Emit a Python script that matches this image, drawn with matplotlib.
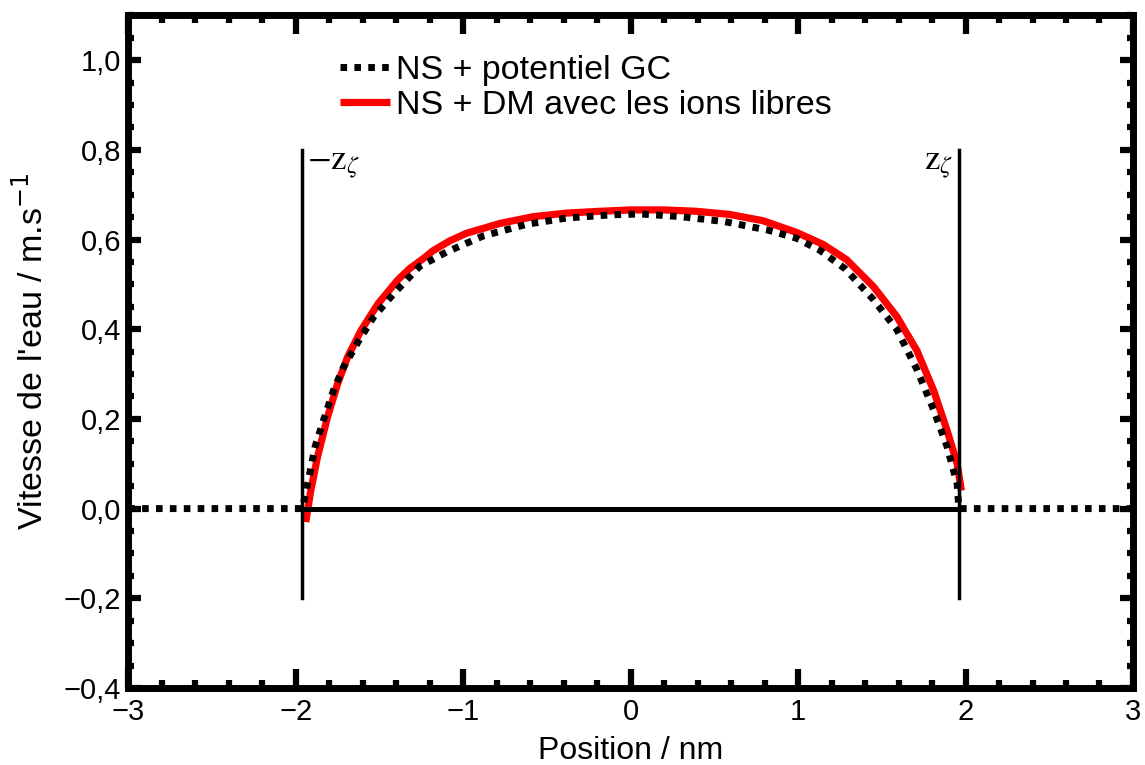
import numpy as np
import matplotlib
matplotlib.use("Agg")
import matplotlib.pyplot as plt
from matplotlib.ticker import MultipleLocator, FuncFormatter

plt.rcParams['font.family'] = ['Liberation Sans', 'DejaVu Sans']

# NS + potentiel GC (black dotted), zero outside the channel
x_gc = [-3.0, -1.96, -1.925, -1.885, -1.835, -1.775, -1.715, -1.635, -1.535, -1.415,
        -1.26, -1.10, -0.88, -0.62, -0.38, -0.12, 0.06, 0.30, 0.56, 0.82,
        0.99, 1.13, 1.28, 1.45, 1.59, 1.71, 1.81, 1.89, 1.95, 1.96, 3.0]
v_gc = [0.0, 0.0, 0.062, 0.137, 0.196, 0.263, 0.315, 0.367, 0.427, 0.479,
        0.54, 0.572, 0.608, 0.634, 0.648, 0.655, 0.657, 0.651, 0.640, 0.621,
        0.603, 0.576, 0.535, 0.466, 0.399, 0.31, 0.22, 0.138, 0.055, 0.0, 0.0]

# NS + DM avec les ions libres (red)
x_md = [-1.94, -1.91, -1.87, -1.81, -1.75, -1.69, -1.61, -1.51, -1.39, -1.32,
        -1.24, -1.18, -1.08, -0.98, -0.86, -0.78, -0.58, -0.38, -0.18, 0.0,
        0.2, 0.39, 0.59, 0.79, 0.99, 1.15, 1.29, 1.45, 1.59, 1.71,
        1.81, 1.89, 1.95, 1.975]
v_md = [-0.03, 0.04, 0.115, 0.204, 0.278, 0.338, 0.397, 0.456, 0.51, 0.535,
        0.557, 0.575, 0.597, 0.614, 0.627, 0.636, 0.651, 0.659, 0.663, 0.666,
        0.666, 0.663, 0.656, 0.642, 0.616, 0.589, 0.555, 0.495, 0.428, 0.352,
        0.263, 0.174, 0.10, 0.04]

z_zeta = 1.96

fig = plt.figure(figsize=(11.45, 7.65), dpi=100)
ax = fig.add_axes([0.112, 0.1007, 0.8775, 0.8793])

ax.plot(x_gc, v_gc, color='black', lw=5, linestyle=(0, (0.95, 1.05)),
        dash_capstyle='butt', label='NS + potentiel GC', zorder=3)
ax.plot(x_md, v_md, color='red', lw=5.2, solid_capstyle='butt', solid_joinstyle='round',
        label='NS + DM avec les ions libres', zorder=2)

# channel walls and zero line
ax.plot([-z_zeta, z_zeta], [0, 0], color='black', lw=3.6, zorder=4)
ax.plot([-z_zeta, -z_zeta], [-0.2, 0.8], color='black', lw=2.5, zorder=4)
ax.plot([z_zeta, z_zeta], [-0.2, 0.8], color='black', lw=2.5, zorder=4)
ax.text(-z_zeta + 0.03, 0.805, r'$-\mathrm{z}_\zeta$', fontsize=25, math_fontfamily='stix',
        ha='left', va='top')
ax.text(z_zeta - 0.03, 0.805, r'$\mathrm{z}_\zeta$', fontsize=25, math_fontfamily='stix',
        ha='right', va='top')

ax.set_xlim(-3, 3)
ax.set_ylim(-0.4, 1.1)

ax.xaxis.set_major_locator(MultipleLocator(1))
ax.xaxis.set_minor_locator(MultipleLocator(0.2))
ax.yaxis.set_major_locator(MultipleLocator(0.2))
ax.yaxis.set_minor_locator(MultipleLocator(0.05))
ax.xaxis.set_major_formatter(FuncFormatter(lambda v, p: f"{v:.0f}".replace('-', '\u2212')))
ax.yaxis.set_major_formatter(FuncFormatter(
    lambda v, p: f"{v:.1f}".replace('.', ',').replace('-', '\u2212')))

for s in ax.spines.values():
    s.set_linewidth(5)
ax.tick_params(which='both', direction='in', top=True, right=True, labelsize=21, width=4.5)
ax.tick_params(axis='x', which='major', length=14, pad=7.5)
ax.tick_params(axis='x', which='minor', length=6)
ax.tick_params(axis='y', which='major', length=9.5, pad=5)
ax.tick_params(axis='y', which='minor', length=4)

ax.set_xlabel('Position / nm', fontsize=23, labelpad=7)
ax.set_ylabel(r"Vitesse de l'eau / m.s$^{-1}$", fontsize=24.5, labelpad=10,
              math_fontfamily='dejavusans')

ax.legend(loc='upper left', bbox_to_anchor=(0.211, 0.941), frameon=False,
          fontsize=24.5, handlelength=1.45, handletextpad=0.2, labelspacing=0.12,
          borderaxespad=0, borderpad=0)

fig.savefig('out.png', dpi=100)
